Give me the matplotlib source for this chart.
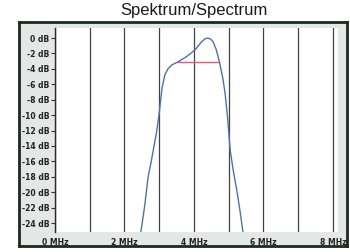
import numpy as np
import matplotlib.pyplot as plt

# spectrum curve (MHz, dB)
freq_mhz = [2.47, 2.58, 2.68, 2.77, 2.85, 2.93, 3.00, 3.08, 3.16, 3.25, 3.36, 3.55, 3.79,
            4.03, 4.22, 4.32, 4.39, 4.48, 4.55, 4.64, 4.73, 4.82, 4.89, 4.96, 5.04,
            5.13, 5.23, 5.32, 5.41]
level_db = [-25.2, -21.8, -18.0, -16.0, -14.0, -12.0, -9.7, -6.5, -4.8, -4.0, -3.5, -3.07, -2.4,
            -1.55, -0.48, -0.1, 0.0, -0.15, -0.5, -1.5, -3.07, -5.0, -7.0, -10.0, -14.5,
            -17.2, -19.7, -22.3, -25.2]

# -3 dB bandwidth marker
bw_freq = [3.55, 4.73]
bw_level = [-3.07, -3.07]

y_ticks = list(range(0, -26, -2))
y_labels = [f"{v} dB" for v in y_ticks]
x_grid = list(range(0, 9))
x_ticks = [0, 2, 4, 6, 8]
x_labels = [f"{v} MHz" for v in x_ticks]

W, H = 350, 252
fig = plt.figure(figsize=(W / 100, H / 100), dpi=100)
fig.patch.set_facecolor("white")

# outer grey frame
frame = fig.add_axes([19 / W, (H - 246) / H, 328 / W, 224 / H], zorder=0)
frame.set_facecolor("#e3e7e5")
frame.set_xticks([])
frame.set_yticks([])
for sp in frame.spines.values():
    sp.set_color("#1c2a22")
    sp.set_linewidth(2.0)

fig.text(194 / W, 1 - 10 / H, "Spektrum/Spectrum", ha="center", va="center",
         fontsize=12, family="Liberation Sans", color="#1a1a1a")

# plot area: 0 MHz at x=55, 1 MHz = 34.75 px; 0 dB at y=38, 1 dB = 7.71 px
ax = fig.add_axes([55 / W, (H - 232) / H, 283 / W, 204 / H], zorder=1)
ax.set_facecolor("white")
ax.set_xlim(0, 283 / 34.75)
ax.set_ylim(-(232 - 38) / 7.71, (38 - 28) / 7.71)

for xv in x_grid:
    ax.axvline(xv, color="#444444", linewidth=0.9, zorder=1)

ax.plot(freq_mhz, level_db, color="#4f72a8", linewidth=1.0, zorder=3)
ax.plot(bw_freq, bw_level, color="#e8557e", linewidth=1.0, zorder=2)

for side in ["top", "right", "bottom"]:
    ax.spines[side].set_visible(False)
ax.spines["left"].set_color("#2a2a2a")
ax.spines["left"].set_linewidth(1.0)

ax.set_yticks(y_ticks)
ax.set_yticklabels(y_labels, fontsize=5.5, fontweight="bold", color="#222222")
ax.tick_params(axis="y", length=3, width=0.8, pad=1, color="#333333")
ax.set_xticks(x_ticks)
ax.set_xticklabels(x_labels, fontsize=5.5, fontweight="bold", color="#222222")
ax.tick_params(axis="x", length=0, pad=4)

fig.savefig("out.png", dpi=100)
